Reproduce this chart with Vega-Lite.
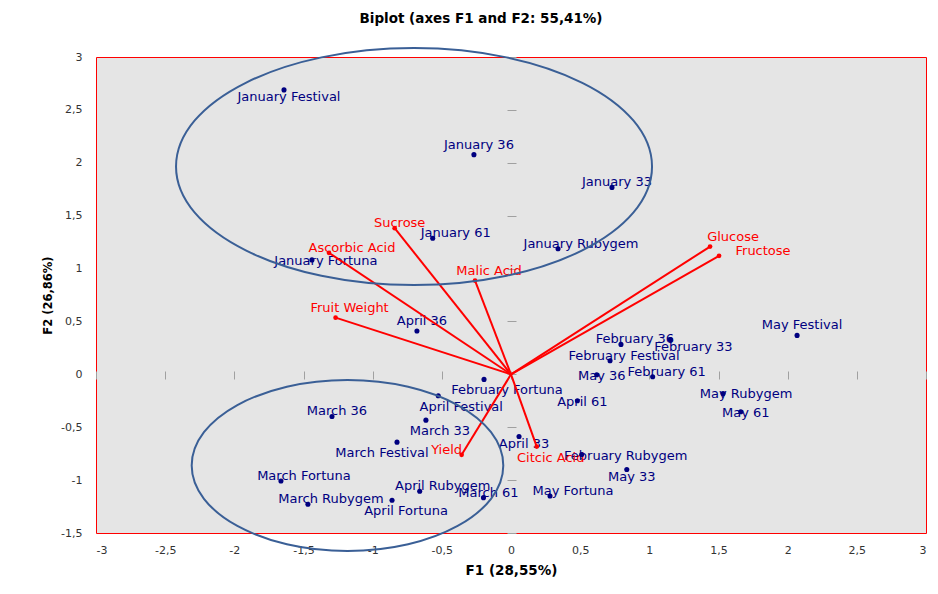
{
  "$schema": "https://vega.github.io/schema/vega-lite/v6.json",
  "width": 830,
  "height": 476,
  "autosize": {"type": "none"},
  "padding": {"left": 96, "top": 57, "right": 12, "bottom": 61},
  "background": "white",
  "config": {
    "locale": {"number": {"decimal": ",", "thousands": ".", "grouping": [3], "currency": ["", ""], "minus": "-"}},
    "view": {"fill": "#E5E5E5", "stroke": "#FF0000", "strokeWidth": 1},
    "font": "DejaVu Sans"
  },
  "title": {
    "text": "Biplot (axes F1 and F2: 55,41%)",
    "font": "DejaVu Sans",
    "fontSize": 13.5,
    "fontWeight": "bold",
    "color": "#000000",
    "anchor": "middle",
    "dx": -30,
    "offset": 19
  },
  "datasets": {
    "observations": [
      {"name": "January Festival", "f1": -1.641, "f2": 2.689, "side": "c", "level": "s"},
      {"name": "January 36", "f1": -0.268, "f2": 2.077, "side": "c", "level": "nn"},
      {"name": "January 61", "f1": -0.566, "f2": 1.287, "side": "rr", "level": "n"},
      {"name": "January Fortuna", "f1": -1.439, "f2": 1.082, "side": "r", "level": "m"},
      {"name": "January 33", "f1": 0.730, "f2": 1.767, "side": "c", "level": "n"},
      {"name": "January Rubygem", "f1": 0.340, "f2": 1.187, "side": "rr", "level": "n"},
      {"name": "February 36", "f1": 0.795, "f2": 0.283, "side": "r", "level": "n"},
      {"name": "February 33", "f1": 1.152, "f2": 0.328, "side": "rr", "level": "s"},
      {"name": "February Festival", "f1": 0.716, "f2": 0.129, "side": "r", "level": "n"},
      {"name": "February 61", "f1": 1.024, "f2": -0.023, "side": "r", "level": "n"},
      {"name": "February Fortuna", "f1": -0.195, "f2": -0.048, "side": "rr", "level": "ss"},
      {"name": "February Rubygem", "f1": 0.511, "f2": -0.758, "side": "rrr", "level": "m"},
      {"name": "March 36", "f1": -1.294, "f2": -0.398, "side": "c", "level": "n"},
      {"name": "March 33", "f1": -0.615, "f2": -0.433, "side": "r", "level": "ss"},
      {"name": "March Festival", "f1": -0.824, "f2": -0.641, "side": "l", "level": "ss"},
      {"name": "March Fortuna", "f1": -1.663, "f2": -1.008, "side": "rr", "level": "n"},
      {"name": "March Rubygem", "f1": -1.468, "f2": -1.228, "side": "rr", "level": "n"},
      {"name": "March 61", "f1": -0.199, "f2": -1.166, "side": "c", "level": "n"},
      {"name": "April 36", "f1": -0.680, "f2": 0.410, "side": "c", "level": "nn"},
      {"name": "April 61", "f1": 0.480, "f2": -0.250, "side": "c", "level": "m"},
      {"name": "April Festival", "f1": -0.526, "f2": -0.203, "side": "rr", "level": "ss"},
      {"name": "April 33", "f1": 0.058, "f2": -0.588, "side": "c", "level": "s"},
      {"name": "April Rubygem", "f1": -0.660, "f2": -1.105, "side": "rr", "level": "n"},
      {"name": "April Fortuna", "f1": -0.860, "f2": -1.190, "side": "r", "level": "ss"},
      {"name": "May Festival", "f1": 2.068, "f2": 0.368, "side": "c", "level": "nn"},
      {"name": "May 36", "f1": 0.620, "f2": -0.004, "side": "c", "level": "m"},
      {"name": "May Rubygem", "f1": 1.533, "f2": -0.181, "side": "rr", "level": "m"},
      {"name": "May 61", "f1": 1.661, "f2": -0.354, "side": "c", "level": "m"},
      {"name": "May 33", "f1": 0.837, "f2": -0.900, "side": "c", "level": "s"},
      {"name": "May Fortuna", "f1": 0.282, "f2": -1.150, "side": "rr", "level": "n"}
    ],
    "variables": [
      {"name": "Sucrose", "f1": -0.841, "f2": 1.382, "side": "c", "level": "n"},
      {"name": "Ascorbic Acid", "f1": -1.316, "f2": 1.149, "side": "rr", "level": "n"},
      {"name": "Malic Acid", "f1": -0.260, "f2": 0.886, "side": "r", "level": "nn"},
      {"name": "Fruit Weight", "f1": -1.268, "f2": 0.536, "side": "r", "level": "nn"},
      {"name": "Glucose", "f1": 1.439, "f2": 1.208, "side": "rr", "level": "nn"},
      {"name": "Fructose", "f1": 1.504, "f2": 1.120, "side": "rrr", "level": "n"},
      {"name": "Yield", "f1": -0.357, "f2": -0.761, "side": "l", "level": "n"},
      {"name": "Citcic Acid", "f1": 0.186, "f2": -0.683, "side": "r", "level": "ss"}
    ],
    "ellipses": [
      {"group": "January", "f1": -0.701, "f2": 1.964},
      {"group": "March-April", "f1": -1.182, "f2": -0.862}
    ]
  },
  "resolve": {"axis": {"x": "independent", "y": "independent"}},
  "layer": [
    {
      "layer": [
        {
          "mark": {"type": "rule", "color": "#A0A0A0", "strokeWidth": 1.5},
          "encoding": {
            "y": {
              "datum": 0,
              "type": "quantitative",
              "scale": {"domain": [-1.5, 3], "nice": false, "zero": false},
              "axis": {
                "orient": "left",
                "offset": -420,
                "values": [-1.5, -1, -0.5, 0, 0.5, 1, 1.5, 2, 2.5, 3],
                "labels": false,
                "domain": false,
                "grid": false,
                "ticks": true,
                "tickSize": 9,
                "tickColor": "#A0A0A0",
                "tickWidth": 1,
                "title": null
              }
            }
          }
        },
        {
          "mark": {"type": "rule", "color": "#A0A0A0", "strokeWidth": 1.5},
          "encoding": {
            "x": {
              "datum": 0,
              "type": "quantitative",
              "scale": {"domain": [-3, 3], "nice": false, "zero": false},
              "axis": {
                "orient": "bottom",
                "offset": -162,
                "values": [-3, -2.5, -2, -1.5, -1, -0.5, 0, 0.5, 1, 1.5, 2, 2.5, 3],
                "labels": false,
                "domain": false,
                "grid": false,
                "ticks": true,
                "tickSize": 8,
                "tickColor": "#A0A0A0",
                "tickWidth": 1,
                "title": null
              }
            }
          }
        }
      ]
    },
    {
      "layer": [
        {
          "data": {"name": "observations"},
          "mark": {
            "type": "text",
            "font": "DejaVu Sans",
            "fontSize": 13,
            "color": "#000080",
            "align": "center",
            "baseline": "middle",
            "dx": {"expr": "datum.side == 'l' ? -15 : datum.side == 'r' ? 14 : datum.side == 'rr' ? 23 : datum.side == 'rrr' ? 44 : 5"},
            "dy": {"expr": "datum.level == 'nn' ? -10 : datum.level == 'n' ? -5 : datum.level == 's' ? 7 : datum.level == 'ss' ? 11 : 1"}
          },
          "encoding": {
            "x": {
              "field": "f1",
              "type": "quantitative",
              "scale": {"domain": [-3, 3], "nice": false, "zero": false},
              "axis": {
                "orient": "bottom",
                "values": [-3, -2.5, -2, -1.5, -1, -0.5, 0, 0.5, 1, 1.5, 2, 2.5, 3],
                "format": ".1~f",
                "domain": false,
                "ticks": false,
                "grid": false,
                "labelPadding": 11,
                "labelFont": "DejaVu Sans",
                "labelFontSize": 11,
                "labelColor": "#333333",
                "title": "F1 (28,55%)",
                "titleFont": "DejaVu Sans",
                "titleFontSize": 13.5,
                "titleFontWeight": "bold",
                "titleColor": "#000000",
                "titleBaseline": "alphabetic",
                "titleY": 41
              }
            },
            "y": {
              "field": "f2",
              "type": "quantitative",
              "scale": {"domain": [-1.5, 3], "nice": false, "zero": false},
              "axis": {
                "orient": "left",
                "values": [-1.5, -1, -0.5, 0, 0.5, 1, 1.5, 2, 2.5, 3],
                "format": ".1~f",
                "domain": false,
                "ticks": false,
                "grid": false,
                "labelPadding": 14,
                "labelFont": "DejaVu Sans",
                "labelFontSize": 11,
                "labelColor": "#333333",
                "title": "F2 (26,86%)",
                "titleFont": "DejaVu Sans",
                "titleFontSize": 11.5,
                "titleFontWeight": "bold",
                "titleColor": "#000000",
                "titleX": -43,
                "titleY": 238
              }
            },
            "text": {"field": "name"}
          }
        },
        {
          "data": {"name": "variables"},
          "mark": {
            "type": "text",
            "font": "DejaVu Sans",
            "fontSize": 13,
            "color": "#FF0000",
            "align": "center",
            "baseline": "middle",
            "dx": {"expr": "datum.side == 'l' ? -15 : datum.side == 'r' ? 14 : datum.side == 'rr' ? 23 : datum.side == 'rrr' ? 44 : 5"},
            "dy": {"expr": "datum.level == 'nn' ? -10 : datum.level == 'n' ? -5 : datum.level == 's' ? 7 : datum.level == 'ss' ? 11 : 1"}
          },
          "encoding": {
            "x": {"field": "f1", "type": "quantitative", "scale": {"domain": [-3, 3], "nice": false, "zero": false}},
            "y": {"field": "f2", "type": "quantitative", "scale": {"domain": [-1.5, 3], "nice": false, "zero": false}},
            "text": {"field": "name"}
          }
        },
        {
          "data": {"name": "variables"},
          "mark": {"type": "rule", "color": "#FF0000", "strokeWidth": 2},
          "encoding": {
            "x": {"field": "f1", "type": "quantitative", "scale": {"domain": [-3, 3], "nice": false, "zero": false}},
            "y": {"field": "f2", "type": "quantitative", "scale": {"domain": [-1.5, 3], "nice": false, "zero": false}},
            "x2": {"datum": 0},
            "y2": {"datum": 0}
          }
        },
        {
          "data": {"name": "variables"},
          "mark": {"type": "point", "filled": true, "color": "#FF0000", "size": 22, "opacity": 1},
          "encoding": {
            "x": {"field": "f1", "type": "quantitative", "scale": {"domain": [-3, 3], "nice": false, "zero": false}},
            "y": {"field": "f2", "type": "quantitative", "scale": {"domain": [-1.5, 3], "nice": false, "zero": false}}
          }
        },
        {
          "data": {"name": "observations"},
          "mark": {"type": "point", "filled": true, "color": "#000080", "size": 26, "opacity": 1},
          "encoding": {
            "x": {"field": "f1", "type": "quantitative", "scale": {"domain": [-3, 3], "nice": false, "zero": false}},
            "y": {"field": "f2", "type": "quantitative", "scale": {"domain": [-1.5, 3], "nice": false, "zero": false}}
          }
        },
        {
          "data": {"name": "ellipses"},
          "transform": [{"filter": "datum.group == 'January'"}],
          "mark": {
            "type": "point",
            "shape": "M1,0C1,0.275,0.552,0.498,0,0.498C-0.552,0.498,-1,0.275,-1,0C-1,-0.275,-0.552,-0.498,0,-0.498C0.552,-0.498,1,-0.275,1,0Z",
            "size": 226576,
            "filled": false,
            "stroke": "#3A5F96",
            "strokeWidth": 2,
            "opacity": 1
          },
          "encoding": {
            "x": {"field": "f1", "type": "quantitative", "scale": {"domain": [-3, 3], "nice": false, "zero": false}},
            "y": {"field": "f2", "type": "quantitative", "scale": {"domain": [-1.5, 3], "nice": false, "zero": false}}
          }
        },
        {
          "data": {"name": "ellipses"},
          "transform": [{"filter": "datum.group == 'March-April'"}],
          "mark": {
            "type": "point",
            "shape": "M1,0C1,0.303,0.552,0.549,0,0.549C-0.552,0.549,-1,0.303,-1,0C-1,-0.303,-0.552,-0.549,0,-0.549C0.552,-0.549,1,-0.303,1,0Z",
            "size": 97095,
            "filled": false,
            "stroke": "#3A5F96",
            "strokeWidth": 2,
            "opacity": 1
          },
          "encoding": {
            "x": {"field": "f1", "type": "quantitative", "scale": {"domain": [-3, 3], "nice": false, "zero": false}},
            "y": {"field": "f2", "type": "quantitative", "scale": {"domain": [-1.5, 3], "nice": false, "zero": false}}
          }
        }
      ]
    }
  ]
}
